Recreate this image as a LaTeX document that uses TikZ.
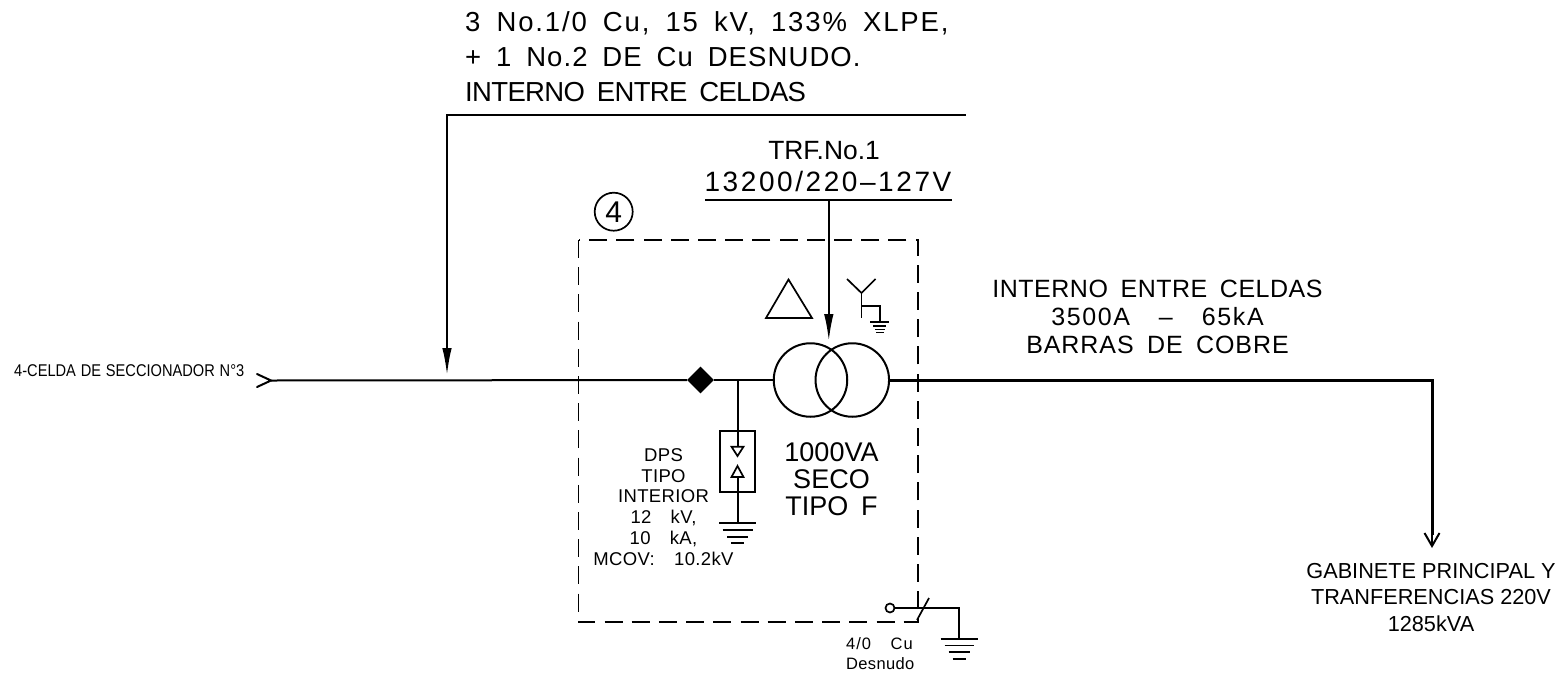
\documentclass[tikz,border=0pt]{standalone}
\usepackage{fontspec}
\setmainfont{Liberation Sans}[WordSpace=1.7]
\newfontfamily\feedfont{Liberation Sans}[FakeStretch=0.86,WordSpace=1.2]
\newfontfamily\plainfont{Liberation Sans}
\newfontfamily\dpsfont{Liberation Sans}[LetterSpace=2,WordSpace=3.5]
\newcommand{\tracked}[2]{{\addfontfeature{LetterSpace=#1}#2}}
\usetikzlibrary{arrows.meta,shapes.geometric}
\tikzset{
  wire/.style={line width=2pt},
  busbar/.style={line width=3pt},
  solidtip/.style={-{Latex[length=27pt,width=9.5pt]}},
  opentip/.style={-{Straight Barb[length=13pt,width=15pt,line width=2pt]}},
  earthbar/.style={line width=1.7pt},
  symbol/.style={line width=1.7pt},
  bigtext/.style={font=\fontsize{27.5}{35}\selectfont},
  trftext/.style={font=\fontsize{26.4}{32}\selectfont},
  midtext/.style={font=\fontsize{25}{28}\selectfont},
  ratingtext/.style={font=\fontsize{27}{27}\selectfont},
  smalltext/.style={font=\dpsfont\fontsize{18.5}{20.8}\selectfont},
  tinytext/.style={font=\dpsfont\fontsize{16.5}{20}\selectfont},
  coil/.style={circle,draw,line width=2pt,minimum size=73.5pt,inner sep=0pt},
  surgebox/.style={rectangle,draw,line width=2pt,minimum width=35pt,minimum height=61pt,inner sep=0pt}
}
\begin{document}
\begin{tikzpicture}
      [x=1pt,y=-1pt,every node/.style={align=center,inner sep=0pt}]
\useasboundingbox (0,0) rectangle (1564,678);
\node[bigtext,align=left,anchor=west] (cable) at (465,57) {\tracked{6.7}{3 No.1/0 Cu, 15 kV, 133\% XLPE,}\\\tracked{4}{+ 1 No.2 DE Cu DESNUDO.}\\\tracked{-2.4}{INTERNO ENTRE CELDAS}};
\node[trftext] (trf) at (828,167) {\hspace*{-8pt}TRF.No.1\\\fontsize{28}{32}\selectfont\tracked{9.2}{13200/220–127V}};
\node[midtext] (bars) at (1157.5,317) {\tracked{2}{INTERNO ENTRE CELDAS}\\\tracked{6.4}{3500A\ \ –\ \ 65kA}\\\tracked{3.7}{BARRAS DE COBRE}};
\node[ratingtext] (rating) at (831.5,479) {1000VA\\SECO\\TIPO F};
\node[smalltext] (dps) at (663.5,507) {DPS\\TIPO\\INTERIOR\\12 kV,\\10 kA,\\MCOV: 10.2kV};
\node[tinytext,align=left,anchor=west] (earthcable) at (846,654) {\tracked{6}{4/0 Cu}\\Desnudo};
\node[font=\feedfont\fontsize{17}{18}\selectfont,anchor=west] (feed) at (14,371) {4-CELDA DE SECCIONADOR N°3};
\node[font=\plainfont\fontsize{21.7}{26.5}\selectfont] (cabinet) at (1431,597.5) {GABINETE PRINCIPAL Y\\TRANFERENCIAS 220V\\1285kVA};
\node[circle,draw,line width=1.7pt,minimum size=38pt,font=\fontsize{30}{30}\selectfont] (cell) at (613.7,211.7) {4};

\node[coil] (coilA) at (810.5,380) {};
\node[coil] (coilB) at (852.3,380) {};
\node[diamond,fill=black,minimum size=27pt] (fuse) at (700.5,380) {};
\node[surgebox] (surge) at (737.5,461.3) {};
\node[circle,draw,line width=1.7pt,minimum size=9pt] (lug) at (890,608) {};

\coordinate (feedA) at (257,374);
\coordinate (feedB) at (257,387);
\coordinate (feedTip) at (271,380.5);
\coordinate (leaderEnd) at (965.5,115);
\coordinate (leaderBend) at (447,115);
\coordinate (leaderTip) at (447,375);
\coordinate (trfL) at (705,200);
\coordinate (trfR) at (952,200);
\coordinate (trfDrop) at (828.8,200);
\coordinate (trfTip) at (828.8,341);
\coordinate (tap) at (737.5,380);
\coordinate (cornerOut) at (1432,380);
\coordinate (outTip) at (1432,548);
\coordinate (earthBend) at (959,608);
\coordinate (earthA) at (959,638.7);
\coordinate (surgeEarth) at (737.5,523);
\coordinate (yCentre) at (861.5,293);

\draw[dash pattern=on 18pt off 9.2pt,line width=1.8pt] (578.5,240) rectangle (918,622);
\draw[wire,line cap=round] (feedA) -- (feedTip) -- (feedB);
\draw[wire] (feedTip) -- (fuse);
\draw[wire] (fuse) -- (coilA);
\draw[wire,solidtip] (leaderEnd) -- (leaderBend) -- (leaderTip);
\draw[wire] (trfL) -- (trfR);
\draw[wire,solidtip] (trfDrop) -- (trfTip);
\draw[busbar,line join=miter] (coilB.east) -- (cornerOut) -- (1432,535);
\draw[wire,opentip] (1432,535) -- (outTip);

\draw[symbol] (766,318) -- (812,318) -- (788.5,279.5) -- cycle;
\draw[symbol] (847,279) -- (yCentre) -- (875.5,279);
\draw[symbol] (yCentre) -- (861.5,318);
\draw[symbol] (861.5,306) -- (880,306) -- (880,322);
\draw[earthbar] (870,322) -- (889,322);
\draw[earthbar] (873,326) -- (886,326);
\draw[earthbar] (875,329.5) -- (885,329.5);
\draw[earthbar] (876,332.5) -- (884,332.5);

\draw[wire] (tap) -- (737.5,446.7);
\draw[symbol] (731.5,446.7) -- (743.5,446.7) -- (737.5,456) -- cycle;
\draw[symbol] (731.5,477) -- (743.5,477) -- (737.5,466) -- cycle;
\draw[wire] (737.5,477) -- (surgeEarth);
\foreach \ypos/\half in {523/18.5,530/15,536.7/10.5,543/6.5}
  \draw[earthbar] (737.5-\half,\ypos) -- (737.5+\half,\ypos);

\draw[wire] (lug) -- (earthBend) -- (earthA);
\draw[symbol] (917,620) -- (929,598);
\foreach \ypos/\half in {638.7/18.5,645.5/14.5,652/10.5,659/6.5}
  \draw[earthbar] (959-\half,\ypos) -- (959+\half,\ypos);
\end{tikzpicture}
\end{document}
